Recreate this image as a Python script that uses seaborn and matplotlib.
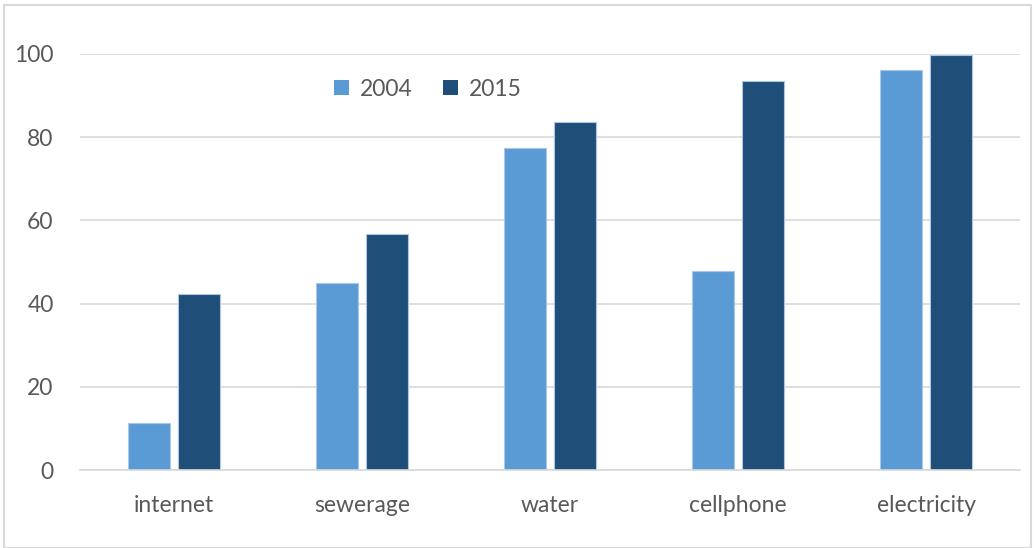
import matplotlib
matplotlib.use("Agg")
import matplotlib.pyplot as plt
from matplotlib.patches import Rectangle
import seaborn as sns
import pandas as pd

categories = ["internet", "sewerage", "water", "cellphone", "electricity"]
values_2004 = [11.4, 45.0, 77.3, 47.8, 96.2]
values_2015 = [42.4, 56.7, 83.6, 93.4, 99.7]
years = ["2004", "2015"]
yticks = [0, 20, 40, 60, 80, 100]

df = pd.DataFrame({
    "category": categories * 2,
    "year": [years[0]] * len(categories) + [years[1]] * len(categories),
    "value": values_2004 + values_2015,
})

sns.set_theme(style="white")
plt.rcParams["font.family"] = ["Lato", "DejaVu Sans"]

fig = plt.figure(figsize=(10.34, 5.48), dpi=100)
ax = fig.add_axes([0.0774, 0.1423, 0.9091, 0.7592])

palette = {"2004": "#5B9BD5", "2015": "#1F4E79"}
sns.barplot(data=df, x="category", y="value", hue="year", order=categories,
            hue_order=years, palette=palette, saturation=1, width=0.53, gap=0.16,
            edgecolor="#A9C6E6", linewidth=0.8, ax=ax, zorder=3)

ax.set_ylim(0, 100)
ax.set_xlim(-0.5, len(categories) - 0.5)
ax.set_yticks(yticks)
ax.set_yticklabels([str(t) for t in yticks])
ax.yaxis.grid(True, color="#D9D9D9", linewidth=1.2, zorder=0)
ax.set_axisbelow(True)
for s in ["top", "right", "left"]:
    ax.spines[s].set_visible(False)
ax.spines["bottom"].set_color("#D9D9D9")
ax.spines["bottom"].set_linewidth(1.2)
ax.spines["bottom"].set_zorder(4)
ax.tick_params(axis="y", length=0, pad=19, labelsize=16.5, labelcolor="#595959")
ax.tick_params(axis="x", length=0, pad=18, labelsize=16.5, labelcolor="#595959")
ax.set_xlabel("")
ax.set_ylabel("")

leg = ax.legend(loc="center", bbox_to_anchor=(0.37, 0.915), ncol=2, frameon=False,
                fontsize=16.5, handlelength=0.65, handleheight=0.65,
                handletextpad=0.45, columnspacing=1.35, labelcolor="#595959")
for h in leg.legend_handles:
    h.set_edgecolor("none")

fig.patches.append(Rectangle((0.004, 0.0), 0.993, 0.99, transform=fig.transFigure,
                             fill=False, edgecolor="#D9D9D9", linewidth=1.5))

fig.savefig("out.png", dpi=100)
